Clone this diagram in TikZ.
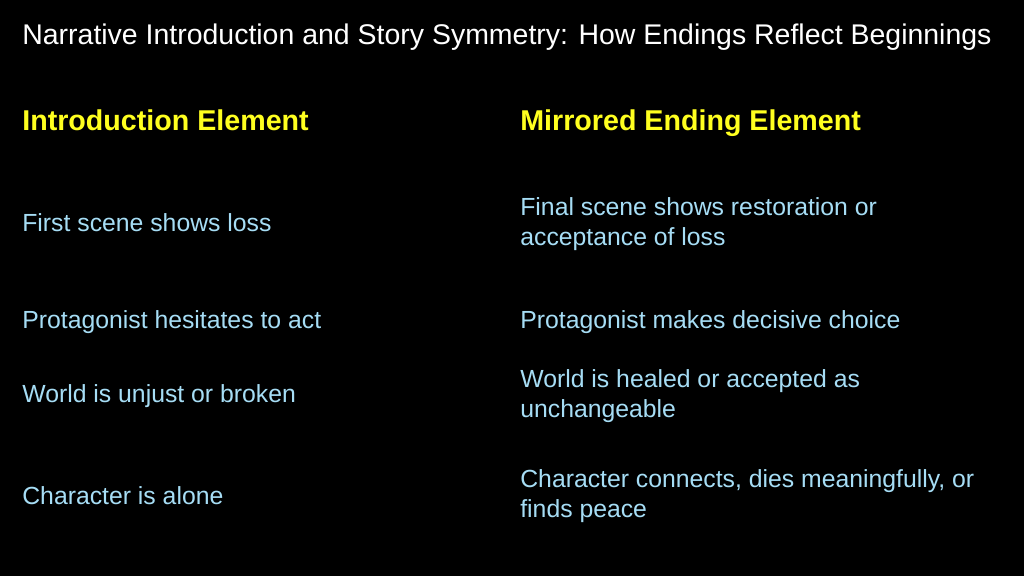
\documentclass[tikz,border=0pt]{standalone}
\usepackage{fontspec}
\setmainfont{Liberation Sans}
\usetikzlibrary{positioning}
\definecolor{bodyblue}{HTML}{A6DDF5}
\definecolor{headyellow}{HTML}{FFFF1F}
\tikzset{
  cell/.style={anchor=west,align=left,text=bodyblue,font=\fontsize{14.1}{17}\selectfont,inner sep=0pt},
  head/.style={anchor=west,text=headyellow,font=\fontsize{16.3}{19}\selectfont\bfseries,inner sep=0pt,text height=0.72em,text depth=0.22em}
}
\begin{document}
\begin{tikzpicture}[x=0.02cm,y=-0.02cm]
\fill[black] (0,0) rectangle (1024,576);
\useasboundingbox (0,0) rectangle (1024,576);
% title
\node[anchor=west,text=white,font=\fontsize{16.2}{19}\selectfont,inner sep=0pt,text height=0.72em,text depth=0.22em] (title) at (22,40)
  {Narrative Introduction and Story Symmetry: How Endings Reflect Beginnings};
% headings
\node[head] (hleft) at (22,126) {Introduction Element};
\node[head] (hright) at (520,126) {Mirrored Ending Element};
% rows
\node[cell] (l1) at (22,223) {First scene shows loss};
\node[cell] (r1) at (520,224) {Final scene shows restoration or\\acceptance of loss};
\node[cell] (l2) at (22,322) {Protagonist hesitates to act};
\node[cell] (r2) at (520,322) {Protagonist makes decisive choice};
\node[cell] (l3) at (22,396) {World is unjust or broken};
\node[cell] (r3) at (520,396) {World is healed or accepted as\\unchangeable};
\node[cell] (l4) at (22,496) {Character is alone};
\node[cell] (r4) at (520,496) {Character connects, dies meaningfully, or\\finds peace};
\end{tikzpicture}
\end{document}
